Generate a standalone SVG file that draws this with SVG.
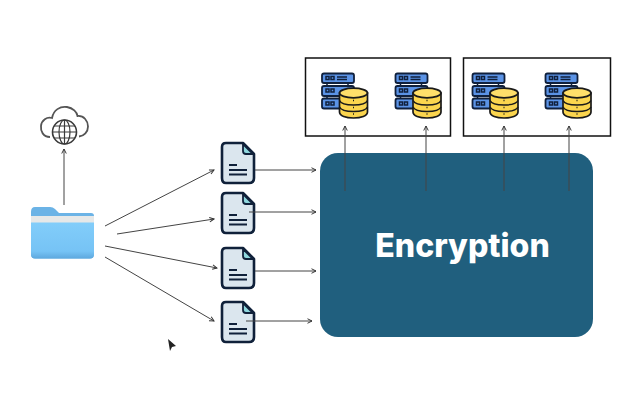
<svg xmlns="http://www.w3.org/2000/svg" xmlns:xlink="http://www.w3.org/1999/xlink" width="625" height="405" viewBox="0 0 625 405">
<style>
.box{fill:#fff;stroke:#111;stroke-width:1.5}
.c{fill:none;stroke:#444;stroke-width:1;marker-end:url(#ah)}
.sv{fill:#5b93e6;stroke:#10203c;stroke-width:1.8}
.ic{fill:none;stroke:#10203c;stroke-width:1.5}
.db{fill:#fbd54e;stroke:#1a1a1a;stroke-width:1.7}
.dt{fill:#ffdf6a;stroke:#1a1a1a;stroke-width:1.7}
.doc{fill:#dbe6ee;stroke:#10213a;stroke-width:2.6;stroke-linejoin:round}
.dl{stroke:#10213a;stroke-width:2;fill:none}
.gl{fill:none;stroke:#3a3a3a;stroke-width:1.2}
</style>
<defs>
<marker id="ah" viewBox="0 0 8 8" refX="7" refY="4" markerWidth="6" markerHeight="6" orient="auto" markerUnits="userSpaceOnUse"><path d="M1 1L7 4L1 7" fill="none" stroke="#333" stroke-width="1.300"/></marker>
<linearGradient id="fg" x1="0" y1="0" x2="0" y2="1"><stop offset="0" stop-color="#82cdfa"/><stop offset="0.8" stop-color="#76c3f5"/><stop offset="1" stop-color="#5ea8de"/></linearGradient>
<g id="stack">
<path class="ic" d="M327 83V86M348 83V86M327 96V98M348 96V98"/>
<rect class="sv" x="322" y="73.500" width="32" height="9.500" rx="2"/>
<rect class="sv" x="322" y="86" width="32" height="10" rx="2"/>
<rect class="sv" x="322" y="98.500" width="32" height="10" rx="2"/>
<path class="ic" d="M326 76.500h3v3h-3zM331 76.500h3v3h-3zM337 77h10M337 79.500h10M326 89h3v3h-3zM331 89h3v3h-3zM326 102h3v3h-3zM331 102h3v3h-3z"/>
<path class="db" d="M339.500 93V112C339.500 116 346 118 353.500 118S367.500 116 367.500 112V93Z"/>
<ellipse class="dt" cx="353.500" cy="93" rx="14" ry="4.800"/>
<path class="ic" style="stroke:#1a1a1a" d="M339.500 100.500C341 104 347 105 353.500 105S366 104 367.500 100.500M339.500 107C341 110.500 347 111.500 353.500 111.500S366 110.500 367.500 107"/>
<path d="M353 100.500h1M353 107.500h1M353 114h1" stroke="#1a1a1a" stroke-width="1.400"/>
</g>
<g id="docicon">
<path class="doc" d="M226 143H243L254 154V178Q254 183 249 183H226Q222 183 222 178V147Q222 143 226 143Z"/>
<path d="M243 144L253 154H246Q243 154 243 151Z" fill="#8fd8de" stroke="#10213a" stroke-width="1.800" stroke-linejoin="round"/>
<path class="dl" d="M229 165H237M229 170H247M229 174.500H247"/>
</g>
</defs>
<rect width="625" height="405" fill="#fff"/>
<g id="box-a"><rect class="box" x="305.500" y="58" width="145" height="78"/><use xlink:href="#stack" href="#stack"/><use xlink:href="#stack" href="#stack" x="73.500"/></g>
<g id="box-b"><rect class="box" x="463.500" y="58" width="147" height="78"/><use xlink:href="#stack" href="#stack" x="150.500"/><use xlink:href="#stack" href="#stack" x="223.500"/></g>
<g id="encryption"><rect x="320" y="153" width="273" height="184" rx="18" fill="#205f7e"/><text x="462.500" y="257" text-anchor="middle" font-family="Inter,'Liberation Sans',sans-serif" font-weight="800" font-size="32" fill="#fff">Encryption</text></g>
<g id="cloud">
<path d="M50 137C43 137 40.500 131 41 126C41.500 120 47 116.500 52 118C53.500 110 60 106 67 107C73 108 77 112 77.500 116C84 115.500 88 121 88 126.500C88 132 84 136 79 136.500" fill="none" stroke="#555" stroke-width="1.800"/>
<circle cx="64.500" cy="132" r="12" fill="#fff" stroke="#3a3a3a" stroke-width="1.600"/>
<ellipse class="gl" cx="64.500" cy="132" rx="5.500" ry="12"/>
<path class="gl" d="M64.500 120V144M52.500 132H76.500M54 126H75M54 138H75"/>
</g>
<g id="folder">
<path d="M31 212Q31 207 35 207H50Q53 207 55 209L59 213H91Q94 213 94 216V254Q94 258.500 90 258.500H35Q31 258.500 31 254Z" fill="#6bb3e6"/>
<rect x="31" y="216" width="63" height="7" fill="#e6e8e8"/>
<path d="M31 222.500H94V254Q94 258.500 90 258.500H35Q31 258.500 31 254Z" fill="url(#fg)"/>
</g>
<g id="doc-1"><use xlink:href="#docicon" href="#docicon"/></g>
<g id="doc-2"><use xlink:href="#docicon" href="#docicon" y="50"/></g>
<g id="doc-3"><use xlink:href="#docicon" href="#docicon" y="105"/></g>
<g id="doc-4"><use xlink:href="#docicon" href="#docicon" y="159"/></g>
<g id="connectors">
<path class="c" d="M64 205V149"/>
<path class="c" d="M105 226L214 170"/>
<path class="c" d="M117 234L214 219"/>
<path class="c" d="M105 246L217 268"/>
<path class="c" d="M105 257L214 321"/>
<path class="c" d="M255 170H316"/>
<path class="c" d="M249 212H316"/>
<path class="c" d="M255 271H316"/>
<path class="c" d="M246 321H312"/>
<path class="c" d="M345 191V126"/>
<path class="c" d="M426 191V126"/>
<path class="c" d="M504 191V126"/>
<path class="c" d="M569 191V126"/>
</g>
<path d="M168 339L176 346L172 347L170 351Z" fill="#222"/>
</svg>
